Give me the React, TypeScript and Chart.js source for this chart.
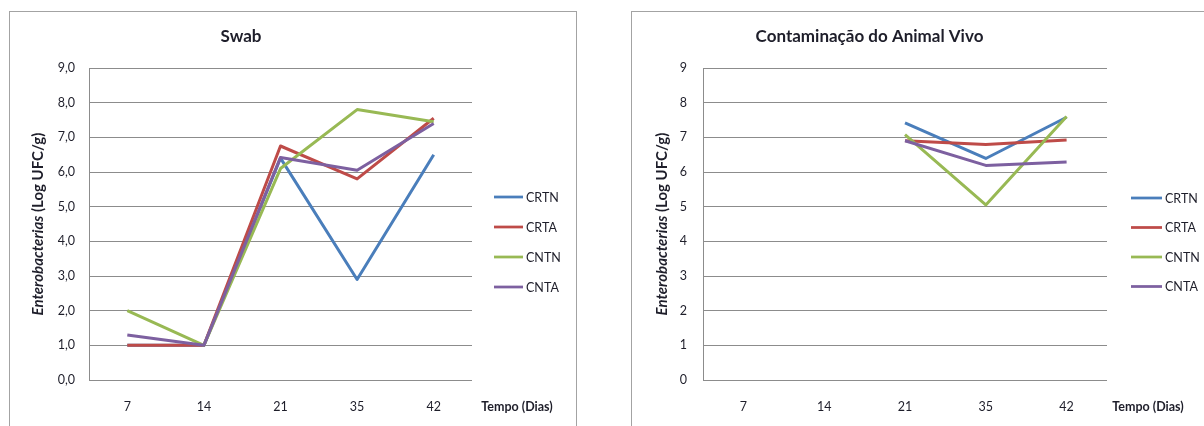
import { useEffect, useRef } from "react";
import { Chart, registerables } from "chart.js";

Chart.register(...registerables);

// Sampling days (x categories)
const days = ["7", "14", "21", "35", "42"];

// Series names and colours
const seriesNames = ["CRTN", "CRTA", "CNTN", "CNTA"];
const seriesColors = ["#4A7EBB", "#BE4B48", "#98B954", "#7D60A0"];

// Swab – Enterobacterias (Log UFC/g)
const swabCRTN = [1.0, 1.0, 6.4, 2.9, 6.5];
const swabCRTA = [1.0, 1.0, 6.75, 5.8, 7.55];
const swabCNTN = [2.0, 1.0, 6.1, 7.8, 7.45];
const swabCNTA = [1.3, 1.0, 6.42, 6.05, 7.4];

// Contaminação do Animal Vivo – Enterobacterias (Log UFC/g)
const vivoCRTN = [null, null, 7.42, 6.39, 7.58];
const vivoCRTA = [null, null, 6.9, 6.79, 6.92];
const vivoCNTN = [null, null, 7.08, 5.05, 7.6];
const vivoCNTA = [null, null, 6.9, 6.19, 6.29];

// Y tick labels
const swabTickLabels = ["0,0", "1,0", "2,0", "3,0", "4,0", "5,0", "6,0", "7,0", "8,0", "9,0"];
const vivoTickLabels = ["0", "1", "2", "3", "4", "5", "6", "7", "8", "9"];

const FONT = "Lato, 'Open Sans', sans-serif";
const TEXT = "#1e1e2a";
const GRID = "#8c8c8c";

// Legend rows, axis captions drawn next to the plot area
const captionPlugin = {
  id: "captions",
  afterDraw(chart: any, _args: any, opts: any) {
    const { ctx, chartArea } = chart;
    ctx.save();
    // legend
    chart.data.datasets.forEach((ds: any, i: number) => {
      const y = chartArea.top + opts.legendTop + i * opts.legendGap;
      const x0 = chartArea.right + opts.legendOffset;
      ctx.strokeStyle = ds.borderColor;
      ctx.lineWidth = 2.75;
      ctx.beginPath();
      ctx.moveTo(x0, y);
      ctx.lineTo(x0 + opts.legendLine, y);
      ctx.stroke();
      ctx.fillStyle = TEXT;
      ctx.font = `12.5px ${FONT}`;
      ctx.textAlign = "left";
      ctx.textBaseline = "middle";
      ctx.fillText(ds.label, x0 + opts.legendLine + 3, y + 0.5);
    });
    // x caption
    ctx.font = `bold 12.5px ${FONT}`;
    ctx.textAlign = "center";
    ctx.textBaseline = "middle";
    ctx.fillStyle = TEXT;
    ctx.fillText("Tempo (Dias)", chartArea.right + opts.xCaptionOffset, chartArea.bottom + opts.xCaptionDrop);
    // y caption with italic part
    const parts = [
      { text: "Enterobacterias", font: `italic bold 15px ${FONT}` },
      { text: " (Log UFC/g)", font: `bold 15px ${FONT}` },
    ];
    let total = 0;
    const widths = parts.map((p) => {
      ctx.font = p.font;
      const w = ctx.measureText(p.text).width;
      total += w;
      return w;
    });
    ctx.translate(opts.yCaptionX, (chartArea.top + chartArea.bottom) / 2);
    ctx.rotate(-Math.PI / 2);
    ctx.textAlign = "left";
    let x = -total / 2;
    parts.forEach((p, i) => {
      ctx.font = p.font;
      ctx.fillText(p.text, x, 0);
      x += widths[i];
    });
    ctx.restore();
  },
};

type PanelProps = {
  title: string;
  series: (number | null)[][];
  tickLabels: string[];
  width: number;
  height: number;
  yAxisWidth: number;
  rightPad: number;
  tickGap: number;
  captions: any;
};

function Panel(props: PanelProps) {
  const ref = useRef<HTMLCanvasElement>(null);
  useEffect(() => {
    const canvas = ref.current;
    if (!canvas) return;
    const chart = new Chart(canvas, {
      type: "line",
      data: {
        labels: days,
        datasets: props.series.map((values, i) => ({
          label: seriesNames[i],
          data: values,
          borderColor: seriesColors[i],
          backgroundColor: seriesColors[i],
          borderWidth: 3,
          pointRadius: 0,
          borderJoinStyle: "round",
          tension: 0,
          spanGaps: false,
          // later series are painted over earlier ones
          order: props.series.length - i,
        })),
      },
      options: {
        animation: false,
        responsive: false,
        maintainAspectRatio: false,
        layout: { padding: { left: 0, right: props.rightPad, top: 0, bottom: 0 } },
        plugins: {
          legend: { display: false },
          tooltip: { enabled: false },
          title: {
            display: true,
            text: props.title,
            color: TEXT,
            font: { family: FONT, size: 17, weight: "bold" },
            padding: { top: 14, bottom: 21.6 },
          },
          captions: props.captions,
        } as any,
        scales: {
          x: {
            offset: true,
            grid: { display: false, drawTicks: false },
            border: { display: false },
            ticks: { color: TEXT, font: { family: FONT, size: 12.5 }, padding: 19 },
            afterFit: (scale: any) => {
              scale.height = 46;
            },
          },
          y: {
            min: 0,
            max: 9,
            ticks: {
              stepSize: 1,
              color: TEXT,
              font: { family: FONT, size: 12.5 },
              padding: props.tickGap,
              callback: (_v: any, index: number) => props.tickLabels[index],
            },
            grid: { color: GRID, lineWidth: 1, drawTicks: false },
            border: { display: true, color: GRID, width: 1 },
            afterFit: (scale: any) => {
              scale.width = props.yAxisWidth;
            },
          },
        },
      },
      plugins: [captionPlugin],
    });
    return () => chart.destroy();
  }, []);
  return (
    <canvas
      ref={ref}
      width={props.width}
      height={props.height}
      style={{ display: "block", width: props.width, height: props.height }}
    />
  );
}

export default function App() {
  return (
    <div
      style={{
        position: "fixed",
        left: 0,
        top: 0,
        width: 1204,
        height: 426,
        background: "#fff",
        overflow: "hidden",
      }}
    >
      <div
        style={{
          position: "absolute",
          left: 9,
          top: 11,
          width: 568,
          height: 440,
          border: "1px solid #a3a3a3",
          boxSizing: "border-box",
        }}
      >
        <Panel
          title="Swab"
          series={[swabCRTN, swabCRTA, swabCNTN, swabCNTA]}
          tickLabels={swabTickLabels}
          width={566}
          height={414}
          yAxisWidth={79}
          rightPad={104}
          tickGap={14}
          captions={{
            legendTop: 129,
            legendGap: 30,
            legendOffset: 22,
            legendLine: 29,
            xCaptionOffset: 45,
            xCaptionDrop: 27,
            yCaptionX: 28,
          }}
        />
      </div>
      <div
        style={{
          position: "absolute",
          left: 631,
          top: 11,
          width: 600,
          height: 440,
          border: "1px solid #a3a3a3",
          boxSizing: "border-box",
        }}
      >
        <Panel
          title="Contaminação do Animal Vivo"
          series={[vivoCRTN, vivoCRTA, vivoCNTN, vivoCNTA]}
          tickLabels={vivoTickLabels}
          width={580}
          height={414}
          yAxisWidth={71}
          rightPad={105}
          tickGap={16}
          captions={{
            legendTop: 130,
            legendGap: 29.5,
            legendOffset: 24,
            legendLine: 31,
            xCaptionOffset: 41,
            xCaptionDrop: 27,
            yCaptionX: 30,
          }}
        />
      </div>
    </div>
  );
}
